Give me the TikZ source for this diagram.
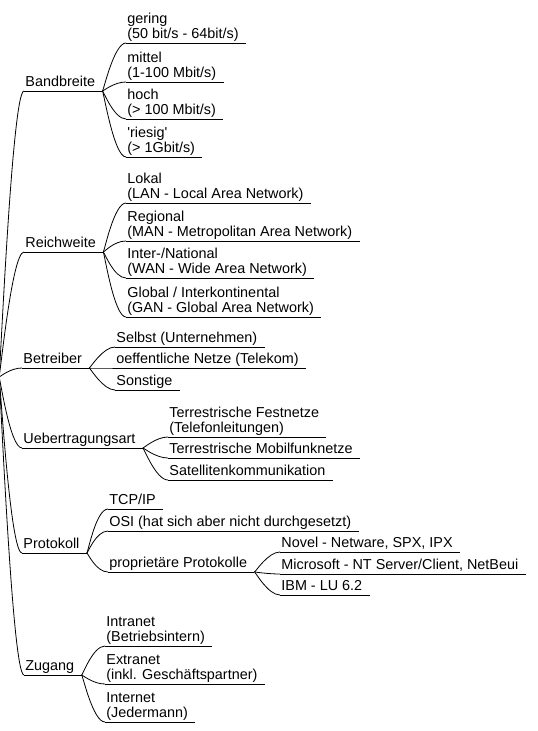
\documentclass[tikz,border=0pt]{standalone}
\usepackage{fontspec}
\setmainfont{Liberation Sans}
\usetikzlibrary{positioning}

\begin{document}
\begin{tikzpicture}[x=1pt,y=-1pt,line width=0.8pt,
  topic/.style={anchor=south west,inner xsep=1pt,inner ysep=0pt,align=left,font=\fontsize{14.4}{15}\selectfont},
  link/.style={to path={.. controls +(1,0) and +(-12,0) .. (\tikztotarget)}}]
\useasboundingbox (0,0) rectangle (538,731);
\coordinate (root) at (-1,377);

% categories
\node[topic] (band) at (24,91) {Bandbreite\strut};
\node[topic] (reich) at (24,252) {Reichweite\strut};
\node[topic] (betr) at (22,368) {Betreiber\strut};
\node[topic] (ueber) at (22,448) {Uebertragungsart\strut};
\node[topic] (proto) at (22,553) {Protokoll\strut};
\node[topic] (zug) at (24,675) {Zugang\strut};

% Bandbreite
\node[topic] (gering) at (126,43) {gering\\(50 bit/s - 64bit/s)\strut};
\node[topic] (mittel) at (126,82) {mittel\\(1-100 Mbit/s)\strut};
\node[topic] (hoch) at (126,119) {hoch\\(> 100 Mbit/s)\strut};
\node[topic] (riesig) at (126,157) {\textquotesingle riesig\textquotesingle\\(> 1Gbit/s)\strut};

% Reichweite
\node[topic] (lan) at (126,203) {Lokal\\(LAN - Local Area Network)\strut};
\node[topic] (man) at (126,241) {Regional\\(MAN - Metropolitan Area Network)\strut};
\node[topic] (wan) at (126,278) {Inter-/National\\(WAN - Wide Area Network)\strut};
\node[topic] (gan) at (126,317) {Global / Interkontinental\\(GAN - Global Area Network)\strut};

% Betreiber
\node[topic] (selbst) at (115,347) {Selbst (Unternehmen)\strut};
\node[topic] (oeff) at (115,368) {oeffentliche Netze (Telekom)\strut};
\node[topic] (sonst) at (115,390) {Sonstige\strut};

% Uebertragungsart
\node[topic] (fest) at (168,437) {Terrestrische Festnetze\\(Telefonleitungen)\strut};
\node[topic] (mobil) at (168,458) {Terrestrische Mobilfunknetze\strut};
\node[topic] (sat) at (168,480) {Satellitenkommunikation\strut};

% Protokoll
\node[topic] (tcp) at (108,509) {TCP/IP\strut};
\node[topic] (osi) at (108,531) {OSI (hat sich aber nicht durchgesetzt)\strut};
\node[topic] (prop) at (108,572) {proprietäre Protokolle\strut};
\node[topic] (novel) at (280,552) {Novel - Netware, SPX, IPX\strut};
\node[topic] (ms) at (280,574) {Microsoft - NT Server/Client, NetBeui\strut};
\node[topic] (ibm) at (280,595) {IBM - LU 6.2\strut};

% Zugang
\node[topic] (intra) at (105,646) {Intranet\\(Betriebsintern)\strut};
\node[topic] (extra) at (105,684) {Extranet\\(inkl. Geschäftspartner)\strut};
\node[topic] (inter) at (105,722) {Internet\\(Jedermann)\strut};

% underlines
\draw (band.south west) -- ([xshift=6pt]band.south east) coordinate (band-e);
\draw (reich.south west) -- ([xshift=6pt]reich.south east) coordinate (reich-e);
\draw (betr.south west) -- ([xshift=6pt]betr.south east) coordinate (betr-e);
\draw (ueber.south west) -- ([xshift=6pt]ueber.south east) coordinate (ueber-e);
\draw (proto.south west) -- ([xshift=6pt]proto.south east) coordinate (proto-e);
\draw (zug.south west) -- ([xshift=6pt]zug.south east) coordinate (zug-e);
\draw (gering.south west) -- ([xshift=6pt]gering.south east);
\draw (mittel.south west) -- ([xshift=6pt]mittel.south east);
\draw (hoch.south west) -- ([xshift=6pt]hoch.south east);
\draw (riesig.south west) -- ([xshift=6pt]riesig.south east);
\draw (lan.south west) -- ([xshift=6pt]lan.south east);
\draw (man.south west) -- ([xshift=6pt]man.south east);
\draw (wan.south west) -- ([xshift=6pt]wan.south east);
\draw (gan.south west) -- ([xshift=6pt]gan.south east);
\draw (selbst.south west) -- ([xshift=6pt]selbst.south east);
\draw (oeff.south west) -- ([xshift=6pt]oeff.south east);
\draw (sonst.south west) -- ([xshift=6pt]sonst.south east);
\draw (fest.south west) -- ([xshift=6pt]fest.south east);
\draw (mobil.south west) -- ([xshift=6pt]mobil.south east);
\draw (sat.south west) -- ([xshift=6pt]sat.south east);
\draw (tcp.south west) -- ([xshift=6pt]tcp.south east);
\draw (osi.south west) -- ([xshift=6pt]osi.south east);
\draw (prop.south west) -- ([xshift=6pt]prop.south east) coordinate (prop-e);
\draw (novel.south west) -- ([xshift=6pt]novel.south east);
\draw (ms.south west) -- ([xshift=6pt]ms.south east);
\draw (ibm.south west) -- ([xshift=6pt]ibm.south east);
\draw (intra.south west) -- ([xshift=6pt]intra.south east);
\draw (extra.south west) -- ([xshift=6pt]extra.south east);
\draw (inter.south west) -- ([xshift=6pt]inter.south east);

% connectors
\draw (root) to[link] (band.south west);
\draw (root) to[link] (reich.south west);
\draw (root) to[link] (betr.south west);
\draw (root) to[link] (ueber.south west);
\draw (root) to[link] (proto.south west);
\draw (root) to[link] (zug.south west);
\draw (band-e) to[link] (gering.south west);
\draw (band-e) to[link] (mittel.south west);
\draw (band-e) to[link] (hoch.south west);
\draw (band-e) to[link] (riesig.south west);
\draw (reich-e) to[link] (lan.south west);
\draw (reich-e) to[link] (man.south west);
\draw (reich-e) to[link] (wan.south west);
\draw (reich-e) to[link] (gan.south west);
\draw (betr-e) to[link] (selbst.south west);
\draw (betr-e) to[link] (oeff.south west);
\draw (betr-e) to[link] (sonst.south west);
\draw (ueber-e) to[link] (fest.south west);
\draw (ueber-e) to[link] (mobil.south west);
\draw (ueber-e) to[link] (sat.south west);
\draw (proto-e) to[link] (tcp.south west);
\draw (proto-e) to[link] (osi.south west);
\draw (proto-e) to[link] (prop.south west);
\draw (prop-e) to[link] (novel.south west);
\draw (prop-e) to[link] (ms.south west);
\draw (prop-e) to[link] (ibm.south west);
\draw (zug-e) to[link] (intra.south west);
\draw (zug-e) to[link] (extra.south west);
\draw (zug-e) to[link] (inter.south west);

\end{tikzpicture}
\end{document}
